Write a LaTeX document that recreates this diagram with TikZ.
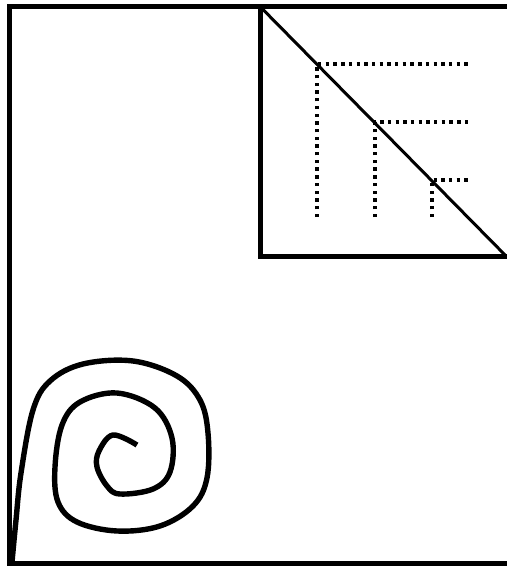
\documentclass[tikz,border=0pt]{standalone}
\begin{document}
\begin{tikzpicture}[x=1pt,y=-1pt,
  frame/.style={line width=5pt},
  diag/.style={line width=3pt},
  dots/.style={line width=3.4pt,dash pattern=on 3.4pt off 4.3pt},
  spiral/.style={line width=5.4pt,line join=round}]
\useasboundingbox (0,0) rectangle (506,567);
\fill[white] (0,0) rectangle (506,567);
% outer frame
\draw[frame] (510,7) -- (9.5,7) -- (9.5,563) -- (510,563);
% inner box
\draw[frame] (260.5,7) -- (260.5,256) -- (510,256);
\draw[diag] (260.5,7) -- (507,257);
% dotted lines
\draw[dots] (317,217) -- (317,64) -- (471,64);
\draw[dots] (375,217) -- (375,122) -- (468,122);
\draw[dots] (432,217) -- (432,180) -- (468,180);
% spiral
\draw[spiral] plot[smooth,tension=0.6] coordinates {
 (12,562) (16,520) (21,473) (33,410) (50,381) (83,364) (133,361) (177,376)
 (200,400) (208,433) (207,478) (193,506) (160,526) (117,531) (77,522)
 (58,502) (55,467) (62,425) (80,402) (117,393) (155,408) (172,438)
 (170,472) (153,489) (120,494) (107,486) (97,467) (99,451) (113,435) (137,445)};
\end{tikzpicture}
\end{document}
